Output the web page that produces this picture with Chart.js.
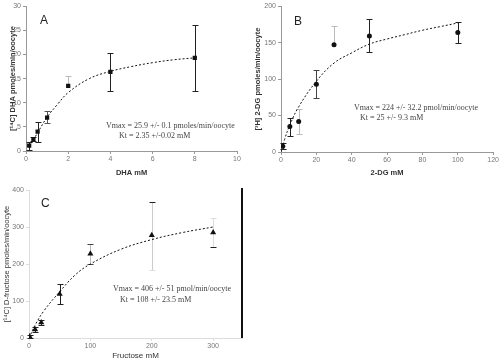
<!DOCTYPE html>
<html>
<head>
<meta charset="utf-8">
<script src="https://cdn.jsdelivr.net/npm/chart.js@4"></script>
<style>
  body { margin: 0; background: #fff; width: 500px; height: 362px; overflow: hidden; position: relative; }
  canvas { position: absolute; }
  .note { position: absolute; font-family: "Liberation Serif", serif; font-size: 8px; color: #444; white-space: nowrap; line-height: 10px; }
  .letter { position: absolute; font-family: "Liberation Sans", sans-serif; font-size: 12px; color: #222; }
</style>
</head>
<body>
<canvas id="chartA" width="250" height="180" style="left:0;top:0"></canvas>
<canvas id="chartB" width="250" height="180" style="left:250px;top:0"></canvas>
<canvas id="chartC" width="260" height="182" style="left:0;top:180px"></canvas>

<div class="letter" style="left:40px;top:13px">A</div>
<div class="letter" style="left:294px;top:14px">B</div>
<div class="letter" style="left:41px;top:196px">C</div>

<div class="note" style="left:106px;top:121px">Vmax = 25.9 +/- 0.1 pmoles/min/oocyte</div>
<div class="note" style="left:119px;top:131px">Kt = 2.35 +/-0.02 mM</div>
<div class="note" style="left:354px;top:103px">Vmax = 224 +/- 32.2 pmol/min/oocyte</div>
<div class="note" style="left:360px;top:113px">Kt = 25 +/- 9.3 mM</div>
<div class="note" style="left:113px;top:284px">Vmax = 406 +/- 51 pmol/min/oocyte</div>
<div class="note" style="left:120px;top:295px">Kt = 108 +/- 23.5 mM</div>

<script>
// panel A - DHA
const aX = [0.15, 0.35, 0.55, 1, 2, 4, 8];
const aY = [1.1, 2.4, 4.0, 6.9, 13.5, 16.4, 19.3];
const aLow = [0.3, 2.0, 1.9, 5.7, 13.5, 12.4, 12.4];
const aHigh = [1.9, 2.8, 6.1, 8.2, 15.5, 20.3, 26.2];
const aCurveX = [0.15, 0.25, 0.5, 1, 1.5, 2, 3, 4, 5, 6, 7, 8];
const aCurveY = [0.9, 1.6, 3.4, 7.0, 9.7, 12.1, 15.0, 16.5, 17.5, 18.3, 18.9, 19.3];

// panel B - 2-DG
const bX = [1, 5, 10, 20, 30, 50, 100];
const bY = [8, 35, 42, 93, 147, 159, 164];
const bLow = [4, 22, 24.5, 74, 147, 136.5, 150];
const bHigh = [12, 47, 59, 112, 173, 182, 179];
const bCurveX = [0, 2, 5, 10, 20, 30, 40, 50, 60, 70, 80, 90, 100];
const bCurveY = [0, 17, 37, 62, 97, 122, 136, 148, 155, 161, 167, 172, 177];

// panel C - fructose
const cX = [1, 10, 20, 50, 100, 200, 300];
const cY = [4, 23, 42, 119, 228, 278, 285];
const cLow = [0, 17, 36, 93, 200, 183, 247];
const cHigh = [8, 29, 48, 145, 255, 367, 323];
const cCurveX = [0, 10, 25, 50, 75, 100, 150, 200, 250, 300];
const cCurveY = [0, 35, 75, 125, 170, 200, 240, 266, 285, 300];

const pts = (xs, ys) => xs.map((x, i) => ({x: x, y: ys[i]}));

// error bar colours (some bars are very faint in the original)
const aErrCol = ['#222', '#222', '#222', '#555', '#bbb', '#222', '#222'];
const bErrCol = ['#222', '#222', '#bbb', '#444', '#bbb', '#222', '#222'];
const cErrCol = ['#222', '#222', '#222', '#222', '#bbb', '#ccc', '#ddd'];
const cLowCapCol = ['#222', '#222', '#222', '#222', '#444', '#ddd', '#222'];
const cHighCapCol = ['#222', '#222', '#222', '#222', '#444', '#222', '#ddd'];

const errorBars = {
    id: 'errorBars',
    beforeDatasetsDraw(chart) {
        const e = chart.options.plugins.errorBars;
        if (!e) return;
        const ctx = chart.ctx;
        const xs = chart.scales.x, ys = chart.scales.y;
        ctx.save();
        ctx.lineWidth = 1;
        e.x.forEach((x, i) => {
            const px = Math.round(xs.getPixelForValue(x)) + 0.5;
            const lo = Math.round(ys.getPixelForValue(e.low[i])) + 0.5;
            const hi = Math.round(ys.getPixelForValue(e.high[i])) + 0.5;
            ctx.strokeStyle = e.colors[i];
            ctx.beginPath();
            ctx.moveTo(px, lo);
            ctx.lineTo(px, hi);
            ctx.stroke();
            if (e.low[i] !== e.y[i]) {
                ctx.strokeStyle = e.lowCaps ? e.lowCaps[i] : e.colors[i];
                ctx.beginPath();
                ctx.moveTo(px - 3, lo); ctx.lineTo(px + 3, lo);
                ctx.stroke();
            }
            ctx.strokeStyle = e.highCaps ? e.highCaps[i] : e.colors[i];
            ctx.beginPath();
            ctx.moveTo(px - 3, hi); ctx.lineTo(px + 3, hi);
            ctx.stroke();
        });
        ctx.restore();
    }
};

const rightLine = {
    id: 'rightLine',
    afterDraw(chart) {
        if (!chart.options.plugins.rightLine) return;
        const a = chart.chartArea, ctx = chart.ctx;
        ctx.save();
        ctx.strokeStyle = '#111';
        ctx.lineWidth = 2;
        ctx.beginPath();
        ctx.moveTo(a.right, a.top - 2);
        ctx.lineTo(a.right, a.bottom);
        ctx.stroke();
        ctx.restore();
    }
};

const tickFont = {family: 'Liberation Sans', size: 7};
const titleFont = {family: 'Liberation Sans', size: 7.5, weight: 'bold'};

function makePanel(id, p) {
    return new Chart(document.getElementById(id), {
        type: 'scatter',
        data: {
            datasets: [{
                type: 'line',
                data: pts(p.curveX, p.curveY),
                borderColor: '#111',
                borderWidth: 1,
                borderDash: [2, 2],
                pointRadius: 0,
                tension: 0.4,
                fill: false
            }, {
                data: pts(p.x, p.y),
                pointStyle: p.marker,
                pointRadius: p.radius,
                backgroundColor: '#111',
                borderColor: '#111',
                borderWidth: 0
            }]
        },
        options: {
            responsive: false,
            animation: false,
            devicePixelRatio: 1,
            layout: { padding: p.pad },
            plugins: {
                legend: { display: false },
                tooltip: { enabled: false },
                errorBars: { x: p.x, y: p.y, low: p.low, high: p.high, colors: p.errCol, lowCaps: p.lowCaps, highCaps: p.highCaps },
                rightLine: p.rightLine || false
            },
            scales: {
                x: {
                    type: 'linear',
                    min: p.xMin, max: p.xMax,
                    afterFit(s) { s.height = p.xHeight; },
                    ticks: { stepSize: p.xStep, includeBounds: false, font: tickFont, color: '#777', padding: 1, maxRotation: 0 },
                    grid: { drawOnChartArea: false, tickLength: 3, color: p.axisCol },
                    border: { color: p.axisCol },
                    title: { display: true, text: p.xTitle, font: p.xTitleFont || titleFont, color: '#333', padding: {top: 0, bottom: p.xTitlePad} }
                },
                y: {
                    min: p.yMin, max: p.yMax,
                    afterFit(s) { s.width = p.yWidth; },
                    ticks: { stepSize: p.yStep, font: tickFont, color: '#777', padding: 2 },
                    grid: { drawOnChartArea: false, tickLength: 3, color: p.axisCol },
                    border: { color: p.axisCol },
                    title: { display: true, text: p.yTitle, font: p.yTitleFont || titleFont, color: '#333', padding: {top: p.yTitlePad, bottom: 0} }
                }
            }
        },
        plugins: [errorBars, rightLine]
    });
}

makePanel('chartA', {
    x: aX, y: aY, low: aLow, high: aHigh, errCol: aErrCol,
    curveX: aCurveX, curveY: aCurveY, marker: 'rect', radius: 3,
    pad: {top: 2, right: 13, bottom: 0, left: 0},
    xMin: 0, xMax: 10, xStep: 2, yMin: 0, yMax: 30, yStep: 5,
    xHeight: 29, yWidth: 26, axisCol: '#999',
    xTitle: 'DHA mM', xTitlePad: 2.5,
    yTitle: '[¹⁴C] DHA pmoles/min/oocyte', yTitlePad: 8
});

makePanel('chartB', {
    x: bX, y: bY, low: bLow, high: bHigh, errCol: bErrCol,
    curveX: bCurveX, curveY: bCurveY, marker: 'circle', radius: 2.5,
    pad: {top: 3, right: 5, bottom: 0, left: 0},
    xMin: 0, xMax: 120, xStep: 20, yMin: 0, yMax: 200, yStep: 50,
    xHeight: 28, yWidth: 31, axisCol: '#999',
    xTitle: '2-DG mM', xTitlePad: 2.5,
    yTitle: '[³H] 2-DG pmoles/min/oocyte', yTitlePad: 3.5
});

makePanel('chartC', {
    x: cX, y: cY, low: cLow, high: cHigh, errCol: cErrCol,
    lowCaps: cLowCapCol, highCaps: cHighCapCol,
    curveX: cCurveX, curveY: cCurveY, marker: 'triangle', radius: 3.5,
    pad: {top: 10, right: 18, bottom: 0, left: 0},
    xMin: 0, xMax: 347, xStep: 100, yMin: 0, yMax: 400, yStep: 100,
    xHeight: 24, yWidth: 29, axisCol: '#ddd', rightLine: true,
    xTitle: 'Fructose mM', xTitlePad: 1.5,
    xTitleFont: {family: 'Liberation Sans', size: 8},
    yTitle: '[¹⁴C] D-fructose pmoles/min/oocyte', yTitlePad: 2.5,
    yTitleFont: {family: 'Liberation Sans', size: 7.5}
});
</script>
</body>
</html>
